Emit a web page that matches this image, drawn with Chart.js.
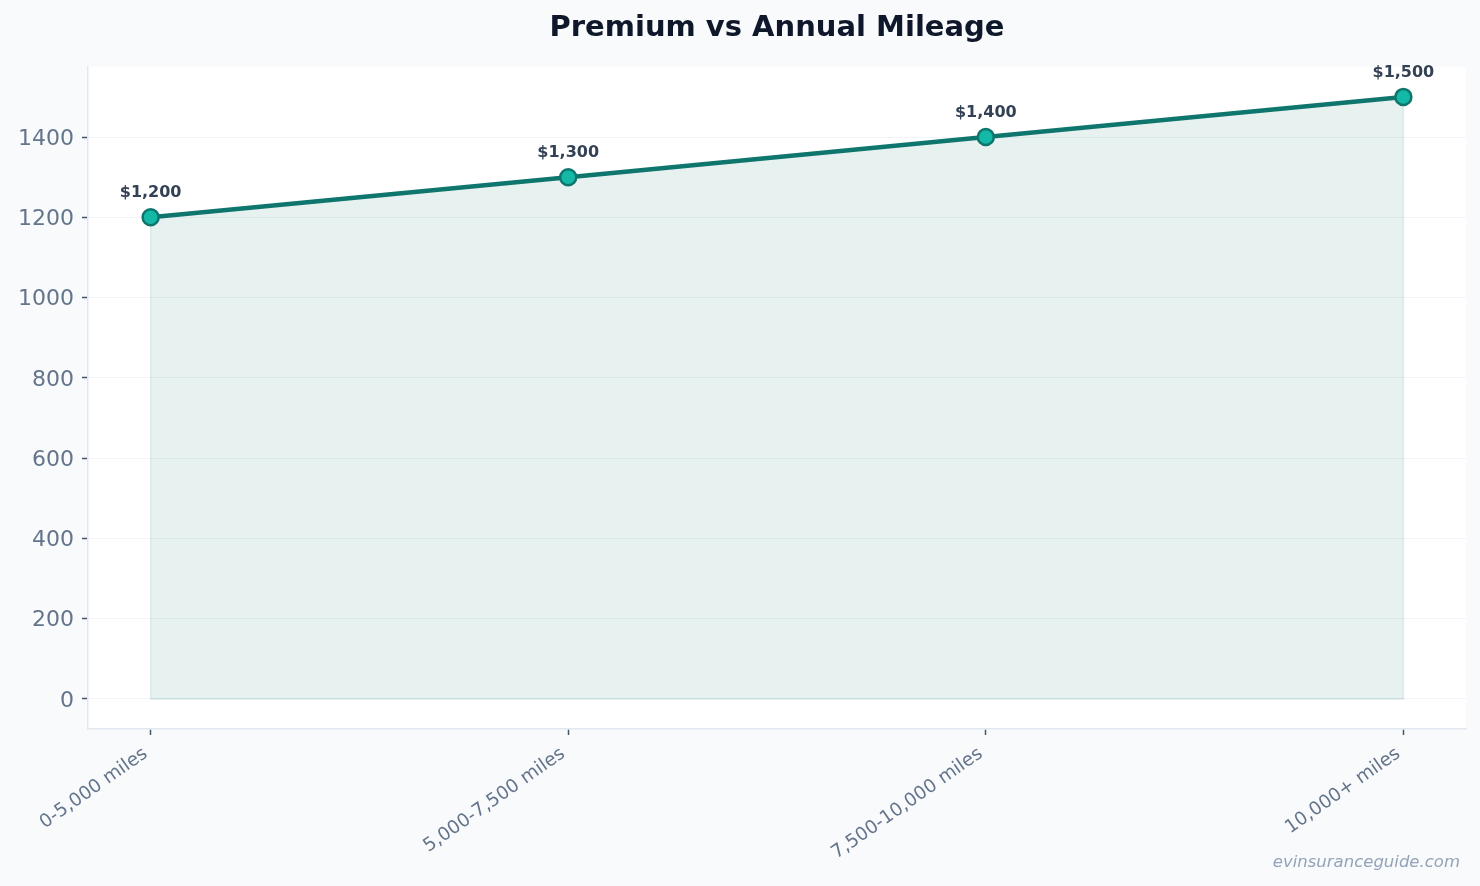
<!DOCTYPE html>
<html>
<head>
<meta charset="utf-8">
<script src="https://cdn.jsdelivr.net/npm/chart.js@4.4.1/dist/chart.umd.min.js"></script>
<style>
  html, body { margin: 0; padding: 0; background: #f8fafc; }
  #wrap { width: 1480px; height: 886px; }
</style>
</head>
<body>
<div id="wrap"><canvas id="chart" width="1480" height="886"></canvas></div>
<script>
// mileage bands and yearly premium in dollars
const mileageBands = ['0-5,000 miles', '5,000-7,500 miles', '7,500-10,000 miles', '10,000+ miles'];
const premiums = [1200, 1300, 1400, 1500];
const yTicks = [0, 200, 400, 600, 800, 1000, 1200, 1400];

const FONT = "'DejaVu Sans', 'Liberation Sans', sans-serif";

const plotBackground = {
    id: 'plotBackground',
    beforeDraw(chart) {
        const { ctx, chartArea: a } = chart;
        ctx.save();
        ctx.fillStyle = '#ffffff';
        ctx.fillRect(a.left, a.top, a.right - a.left, a.bottom - a.top);
        ctx.restore();
    }
};

// faint outline of the filled area, like fill_between's edge
const fillEdge = {
    id: 'fillEdge',
    beforeDatasetsDraw(chart) {
        const { ctx } = chart;
        const x = chart.scales.x, y = chart.scales.y;
        ctx.save();
        ctx.strokeStyle = 'rgba(15, 118, 110, 0.12)';
        ctx.lineWidth = 1.5;
        ctx.beginPath();
        ctx.moveTo(x.getPixelForValue(0), y.getPixelForValue(0));
        premiums.forEach((v, i) => ctx.lineTo(x.getPixelForValue(i), y.getPixelForValue(v)));
        ctx.lineTo(x.getPixelForValue(premiums.length - 1), y.getPixelForValue(0));
        ctx.closePath();
        ctx.stroke();
        ctx.restore();
    }
};

const valueLabels = {
    id: 'valueLabels',
    afterDatasetsDraw(chart) {
        const { ctx } = chart;
        const meta = chart.getDatasetMeta(0);
        ctx.save();
        ctx.font = 'bold 16px ' + FONT;
        ctx.fillStyle = '#334155';
        ctx.textAlign = 'center';
        ctx.textBaseline = 'alphabetic';
        meta.data.forEach((pt, i) => {
            ctx.fillText('$' + premiums[i].toLocaleString('en-US'), pt.x, pt.y - 20);
        });
        ctx.restore();
    }
};

const watermark = {
    id: 'watermark',
    afterDraw(chart) {
        const { ctx } = chart;
        ctx.save();
        ctx.font = 'italic 16.5px ' + FONT;
        ctx.fillStyle = '#94a3b8';
        ctx.textAlign = 'right';
        ctx.textBaseline = 'alphabetic';
        ctx.fillText('evinsuranceguide.com', chart.width - 20, chart.height - 19);
        ctx.restore();
    }
};

new Chart(document.getElementById('chart'), {
    type: 'line',
    data: {
        datasets: [{
            data: premiums.map((v, i) => ({ x: i, y: v })),
            borderColor: '#0f766e',
            borderWidth: 4.5,
            backgroundColor: 'rgba(15, 118, 110, 0.1)',
            fill: 'origin',
            tension: 0,
            pointRadius: 8,
            pointHoverRadius: 8,
            pointBackgroundColor: '#14b8a6',
            pointBorderColor: '#0f766e',
            pointBorderWidth: 2.5
        }]
    },
    options: {
        responsive: false,
        animation: false,
        layout: { padding: { top: 0, right: 14, bottom: 0, left: 0 } },
        scales: {
            x: {
                type: 'linear',
                min: -0.15,
                max: 3.15,
                afterBuildTicks(scale) {
                    scale.ticks = mileageBands.map((_, i) => ({ value: i }));
                },
                afterFit(scale) { scale.height = 157; },
                grid: {
                    drawOnChartArea: false,
                    drawTicks: true,
                    tickLength: 6,
                    tickColor: '#475569',
                    tickWidth: 1.5
                },
                border: { display: true, color: '#e2e8f0', width: 1.5 },
                ticks: {
                    minRotation: 35,
                    maxRotation: 35,
                    padding: 8,
                    labelOffset: -5,
                    color: '#64748b',
                    font: { family: FONT, size: 18.5 },
                    callback: (v) => mileageBands[v]
                }
            },
            y: {
                type: 'linear',
                min: -75,
                max: 1575,
                afterBuildTicks(scale) {
                    scale.ticks = yTicks.map(v => ({ value: v }));
                },
                afterFit(scale) { scale.width = 88; },
                grid: {
                    color: '#f1f5f9',
                    lineWidth: 1,
                    tickLength: 6,
                    tickColor: '#475569',
                    tickWidth: 1.5
                },
                border: { display: true, color: '#e2e8f0', width: 1.5 },
                ticks: {
                    padding: 8,
                    labelOffset: 2,
                    color: '#64748b',
                    font: { family: FONT, size: 22 },
                    callback: (v) => String(v)
                }
            }
        },
        plugins: {
            legend: { display: false },
            tooltip: { enabled: false },
            title: {
                display: true,
                fullSize: false,
                text: 'Premium vs Annual Mileage',
                color: '#0f172a',
                font: { family: FONT, size: 29, weight: 'bold' },
                padding: { top: 11, bottom: 21 }
            }
        }
    },
    plugins: [plotBackground, fillEdge, valueLabels, watermark]
});
</script>
</body>
</html>
